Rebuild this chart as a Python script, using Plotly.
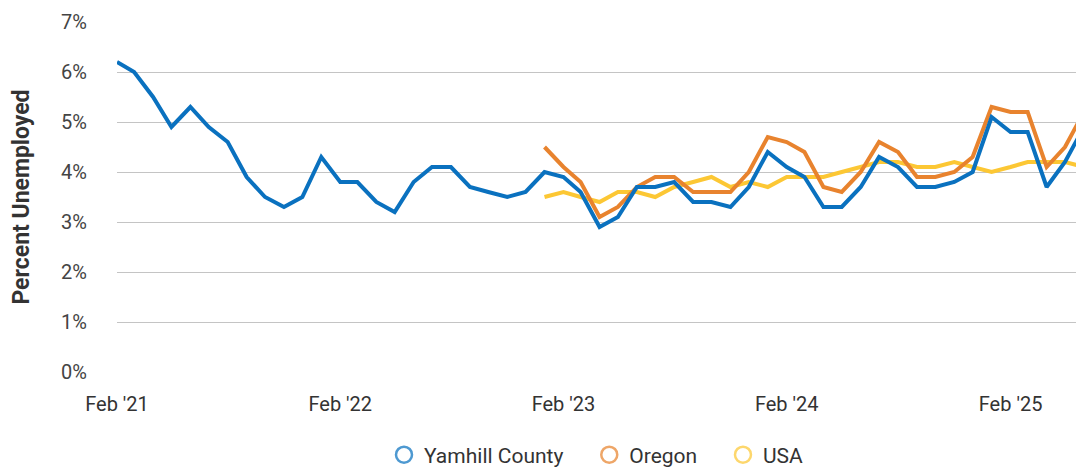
import pandas as pd
import plotly.graph_objects as go

# ---- data ----
months_yamhill = pd.date_range("2021-02-01", periods=53, freq="MS")
months_state = pd.date_range("2023-01-01", periods=30, freq="MS")

yamhill = [6.2, 6.0, 5.5, 4.9, 5.3, 4.9, 4.6, 3.9, 3.5, 3.3, 3.5,
           4.3, 3.8, 3.8, 3.4, 3.2, 3.8, 4.1, 4.1, 3.7, 3.6, 3.5, 3.6,
           4.0, 3.9, 3.6, 2.9, 3.1, 3.7, 3.7, 3.8, 3.4, 3.4, 3.3, 3.7,
           4.4, 4.1, 3.9, 3.3, 3.3, 3.7, 4.3, 4.1, 3.7, 3.7, 3.8, 4.0,
           5.1, 4.8, 4.8, 3.7, 4.2, 4.9]
oregon = [4.5, 4.1, 3.8, 3.1, 3.3, 3.7, 3.9, 3.9, 3.6, 3.6, 3.6, 4.0,
          4.7, 4.6, 4.4, 3.7, 3.6, 4.0, 4.6, 4.4, 3.9, 3.9, 4.0, 4.3,
          5.3, 5.2, 5.2, 4.1, 4.5, 5.2]
usa = [3.5, 3.6, 3.5, 3.4, 3.6, 3.6, 3.5, 3.7, 3.8, 3.9, 3.7, 3.8,
       3.7, 3.9, 3.9, 3.9, 4.0, 4.1, 4.2, 4.2, 4.1, 4.1, 4.2, 4.1,
       4.0, 4.1, 4.2, 4.2, 4.2, 4.1]

series_names = ["Yamhill County", "Oregon", "USA"]
tick_dates = ["2021-02-01", "2022-02-01", "2023-02-01", "2024-02-01", "2025-02-01"]
tick_text = ["Feb '21", "Feb '22", "Feb '23", "Feb '24", "Feb '25"]
y_ticks = [0, 1, 2, 3, 4, 5, 6, 7]
y_text = [f"{v}%" for v in y_ticks]

colors = ["#0a71bf", "#e8832e", "#fcc734"]
legend_colors = ["rgba(10,113,191,0.72)", "rgba(232,131,46,0.72)", "rgba(252,199,52,0.72)"]
legend_pad = ["\u00a0\u00a0\u00a0\u00a0", "\u00a0\u00a0\u00a0\u00a0", ""]

fig = go.Figure()
for x, y, c, name in [(months_yamhill, yamhill, colors[0], series_names[0]),
                      (months_state, oregon, colors[1], series_names[1]),
                      (months_state, usa, colors[2], series_names[2])][::-1]:
    fig.add_trace(go.Scatter(x=x, y=y, mode="lines", name=name,
                             line=dict(color=c, width=4), showlegend=False,
                             hovertemplate="%{y:.1f}%<extra>" + name + "</extra>"))

for name, lc, pad in zip(series_names, legend_colors, legend_pad):
    fig.add_trace(go.Scatter(x=[None], y=[None], mode="markers", name=name + pad,
                             marker=dict(symbol="circle-open", size=16,
                                         color=lc, line=dict(width=2.5, color=lc))))

fig.update_layout(
    template="none",
    width=1076, height=467,
    margin=dict(l=117, r=0, t=22, b=95, autoexpand=False),
    paper_bgcolor="white", plot_bgcolor="white",
    font=dict(family="Roboto", size=20, color="#444"),
    showlegend=True,
    legend=dict(orientation="h", x=0.5, xanchor="center",
                yref="container", y=12 / 467, yanchor="middle",
                font=dict(size=21, color="#333"), itemwidth=30,
                traceorder="normal"),
    xaxis=dict(range=["2021-02-01", "2025-05-19"], tickvals=tick_dates, ticktext=tick_text,
               showgrid=False, zeroline=False, showline=False, automargin=False,
               ticks="outside", ticklen=14, tickcolor="rgba(0,0,0,0)",
               tickfont=dict(size=20, color="#333")),
    yaxis=dict(range=[0, 7], tickvals=y_ticks, ticktext=y_text,
               showgrid=True, gridcolor="#c4c4c4", gridwidth=1,
               zeroline=False, showline=False, automargin=False,
               ticks="outside", ticklen=25, tickcolor="rgba(0,0,0,0)",
               tickfont=dict(size=20, color="#444"),
               title=dict(text="<b>Percent Unemployed</b>", standoff=25,
                          font=dict(size=23, color="#333"))),
)

fig.write_html("out.html", config={"displayModeBar": False},
               post_script="document.body.style.margin='0';")
